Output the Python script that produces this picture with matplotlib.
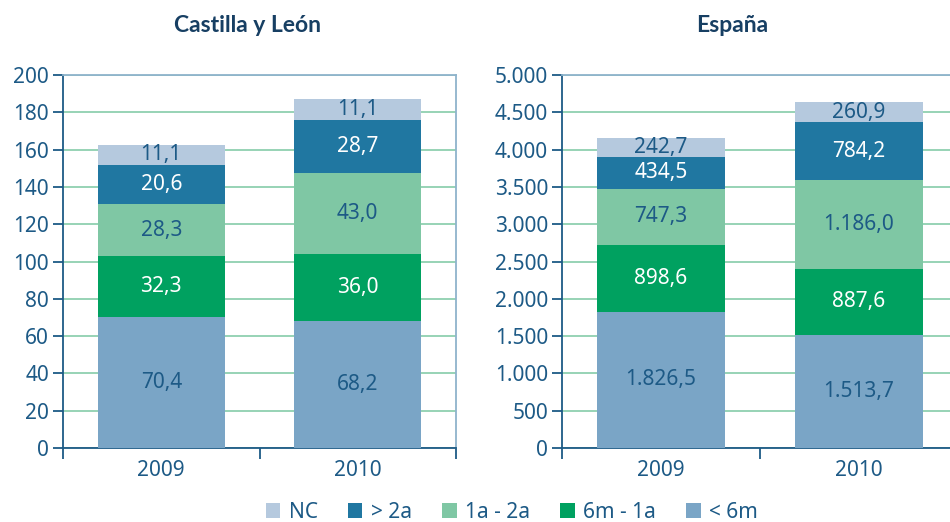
import matplotlib
matplotlib.use("Agg")
import matplotlib.pyplot as plt
import numpy as np
from matplotlib.patches import Patch
from matplotlib.ticker import FuncFormatter, FixedLocator

plt.rcParams['font.family'] = ['Noto Sans', 'DejaVu Sans']

# data
YEARS = ["2009", "2010"]
SERIES = ["< 6m", "6m - 1a", "1a - 2a", "> 2a", "NC"]
CYL = {
    "< 6m": [70.4, 68.2],
    "6m - 1a": [32.3, 36.0],
    "1a - 2a": [28.3, 43.0],
    "> 2a": [20.6, 28.7],
    "NC": [11.1, 11.1],
}
ESP = {
    "< 6m": [1826.5, 1513.7],
    "6m - 1a": [898.6, 887.6],
    "1a - 2a": [747.3, 1186.0],
    "> 2a": [434.5, 784.2],
    "NC": [242.7, 260.9],
}
LEGEND_ORDER = ["NC", "> 2a", "1a - 2a", "6m - 1a", "< 6m"]

COLORS = {
    "< 6m": "#7aa5c6",
    "6m - 1a": "#00a160",
    "1a - 2a": "#7fc7a4",
    "> 2a": "#2077a1",
    "NC": "#b5c9de",
}
TEXT_ON = {
    "< 6m": "#1d5a86",
    "6m - 1a": "white",
    "1a - 2a": "#1d5a86",
    "> 2a": "white",
    "NC": "#1d5a86",
}
DARK = "#1d5a86"
TITLE_C = "#173f63"
GRID_C = "#8fd0b0"
LIGHT_SPINE = "#8fb3cc"
FS = 15


def es_num(v, decimals=0):
    s = "{:,.{}f}".format(v, decimals)
    return s.replace(",", "X").replace(".", ",").replace("X", ".")


def draw(ax, data, ymax, ystep):
    x = np.arange(len(YEARS))
    bottom = np.zeros(len(YEARS))
    for s in SERIES:
        vals = np.array(data[s])
        ax.bar(x, vals, 0.645, bottom=bottom, color=COLORS[s], zorder=3)
        for xi, b, v in zip(x, bottom, vals):
            ax.text(xi, b + v / 2, es_num(v, 1), ha='center', va='center',
                    color=TEXT_ON[s], fontsize=FS, zorder=4)
        bottom += vals
    ax.set_xlim(-0.5, 1.5)
    ax.set_ylim(0, ymax)
    ax.yaxis.set_major_locator(FixedLocator(np.arange(0, ymax + 1, ystep)))
    ax.yaxis.set_major_formatter(FuncFormatter(lambda v, p: es_num(v)))
    ax.grid(axis='y', color=GRID_C, linewidth=1.3, zorder=0)
    ax.set_axisbelow(True)
    ax.set_xticks([-0.5, 0.5, 1.5])
    ax.set_xticklabels([])
    ax.set_xticks(x, minor=True)
    ax.set_xticklabels(YEARS, minor=True)
    ax.tick_params(axis='x', which='major', length=8, width=1.3, color=DARK)
    ax.tick_params(axis='x', which='minor', length=0, pad=9,
                   labelsize=FS, labelcolor=DARK)
    ax.tick_params(axis='y', length=7, width=1.3, color=DARK, pad=3,
                   labelsize=FS, labelcolor=DARK)
    for side in ['left', 'bottom']:
        ax.spines[side].set_color(DARK)
        ax.spines[side].set_linewidth(1.3)
    for side in ['top', 'right']:
        ax.spines[side].set_color(LIGHT_SPINE)
        ax.spines[side].set_linewidth(1.3)


W, H = 950, 522
fig = plt.figure(figsize=(9.5, 5.22), dpi=100)
ax1 = fig.add_axes([63 / W, 1 - 448 / H, 393 / W, 373 / H])
ax2 = fig.add_axes([562 / W, 1 - 448 / H, 396 / W, 373 / H])

draw(ax1, CYL, 200, 20)
draw(ax2, ESP, 5000, 500)

fig.text(247 / W, 1 - 25 / H, "Castilla y León", ha='center', va='center',
         fontsize=16.5, fontweight='bold', color=TITLE_C, family='Lato')
fig.text(732 / W, 1 - 25 / H, "España", ha='center', va='center',
         fontsize=16.5, fontweight='bold', color=TITLE_C, family='Lato')

handles = [Patch(facecolor=COLORS[s], edgecolor='none', label=s)
           for s in LEGEND_ORDER]
leg = fig.legend(handles=handles, loc='center', ncol=5, frameon=False,
                 bbox_to_anchor=(512 / W, 1 - 512 / H), fontsize=FS,
                 handlelength=0.7, handleheight=0.7, handletextpad=0.4,
                 columnspacing=1.45, borderpad=0)
for t in leg.get_texts():
    t.set_color(DARK)

fig.savefig("out.png", dpi=100)
